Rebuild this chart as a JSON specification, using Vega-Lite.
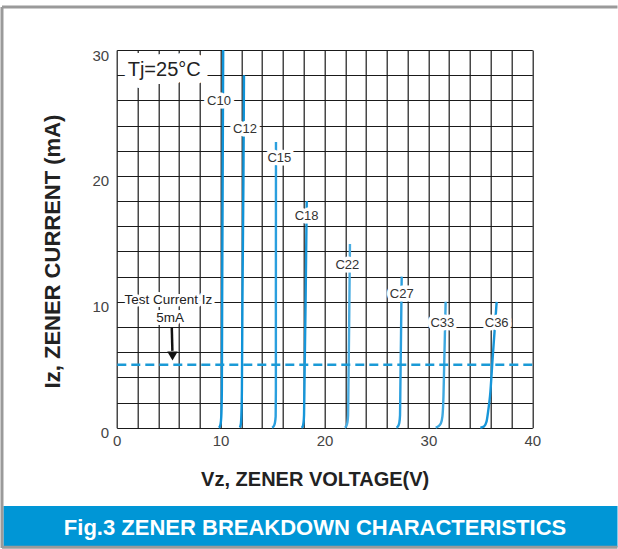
{
  "$schema": "https://vega.github.io/schema/vega-lite/v6.json",
  "autosize": "none",
  "width": 415.6,
  "height": 377.7,
  "padding": {"left": 116.7, "top": 50, "right": 85.7, "bottom": 121.3},
  "background": "white",
  "config": {
    "view": {"stroke": null},
    "axis": {
      "grid": true, "gridColor": "#1a1a1a", "gridWidth": 1.2, "gridOpacity": 1,
      "domain": false, "ticks": false, "labelOverlap": false, "tickCount": 100, "format": "d",
      "labelFont": "Liberation Sans", "labelFontSize": 15, "labelColor": "#444",
      "titleFont": "Liberation Sans", "titleFontWeight": "bold", "titleColor": "#222"
    },
    "axisX": {"labelPadding": 6, "labelFlush": false, "titleFontSize": 20, "titleX": 198, "titleY": 58, "titleBaseline": "alphabetic", "titleAlign": "center"},
    "axisY": {"labelPadding": 8, "labelOffset": 5, "titleFontSize": 22, "titleX": -64, "titleY": 201, "titleAngle": -90, "titleBaseline": "middle", "titleAlign": "center"}
  },
  "datasets": {
    "curves": [
      {"curve": "C10", "v": 9.83, "i": 0}, {"curve": "C10", "v": 9.95, "i": 0.15}, {"curve": "C10", "v": 10.03, "i": 0.5}, {"curve": "C10", "v": 10.08, "i": 1.2}, {"curve": "C10", "v": 10.12, "i": 3}, {"curve": "C10", "v": 10.15, "i": 10}, {"curve": "C10", "v": 10.2, "i": 20}, {"curve": "C10", "v": 10.25, "i": 30},
      {"curve": "C12", "v": 11.85, "i": 0}, {"curve": "C12", "v": 11.95, "i": 0.3}, {"curve": "C12", "v": 12.0, "i": 1}, {"curve": "C12", "v": 12.05, "i": 3}, {"curve": "C12", "v": 12.1, "i": 10}, {"curve": "C12", "v": 12.2, "i": 20}, {"curve": "C12", "v": 12.25, "i": 28},
      {"curve": "C15", "v": 14.95, "i": 0}, {"curve": "C15", "v": 15.1, "i": 0.1}, {"curve": "C15", "v": 15.22, "i": 0.35}, {"curve": "C15", "v": 15.3, "i": 0.9}, {"curve": "C15", "v": 15.32, "i": 3}, {"curve": "C15", "v": 15.32, "i": 10}, {"curve": "C15", "v": 15.33, "i": 22.7},
      {"curve": "C18", "v": 17.78, "i": 0}, {"curve": "C18", "v": 17.9, "i": 0.1}, {"curve": "C18", "v": 17.98, "i": 0.4}, {"curve": "C18", "v": 18.03, "i": 1}, {"curve": "C18", "v": 18.08, "i": 4}, {"curve": "C18", "v": 18.18, "i": 10}, {"curve": "C18", "v": 18.29, "i": 18},
      {"curve": "C22", "v": 21.95, "i": 0}, {"curve": "C22", "v": 22.08, "i": 0.1}, {"curve": "C22", "v": 22.2, "i": 0.4}, {"curve": "C22", "v": 22.27, "i": 1}, {"curve": "C22", "v": 22.3, "i": 3}, {"curve": "C22", "v": 22.37, "i": 8}, {"curve": "C22", "v": 22.45, "i": 14.6},
      {"curve": "C27", "v": 26.92, "i": 0}, {"curve": "C27", "v": 27.07, "i": 0.1}, {"curve": "C27", "v": 27.2, "i": 0.4}, {"curve": "C27", "v": 27.27, "i": 1}, {"curve": "C27", "v": 27.3, "i": 3}, {"curve": "C27", "v": 27.36, "i": 7}, {"curve": "C27", "v": 27.43, "i": 12},
      {"curve": "C33", "v": 30.7, "i": 0}, {"curve": "C33", "v": 30.95, "i": 0.1}, {"curve": "C33", "v": 31.2, "i": 0.35}, {"curve": "C33", "v": 31.35, "i": 0.9}, {"curve": "C33", "v": 31.45, "i": 2.5}, {"curve": "C33", "v": 31.52, "i": 5}, {"curve": "C33", "v": 31.66, "i": 10},
      {"curve": "C36", "v": 35.0, "i": 0}, {"curve": "C36", "v": 35.35, "i": 0.1}, {"curve": "C36", "v": 35.6, "i": 0.5}, {"curve": "C36", "v": 35.75, "i": 1.3}, {"curve": "C36", "v": 35.93, "i": 2.5}, {"curve": "C36", "v": 36.19, "i": 5.6}, {"curve": "C36", "v": 36.57, "i": 10}
    ],
    "labels": [
      {"label": "C10", "v": 9.85, "i": 25.95},
      {"label": "C12", "v": 12.35, "i": 23.7},
      {"label": "C15", "v": 15.65, "i": 21.4},
      {"label": "C18", "v": 18.28, "i": 16.84},
      {"label": "C22", "v": 22.2, "i": 12.92},
      {"label": "C27", "v": 27.43, "i": 10.62},
      {"label": "C33", "v": 31.34, "i": 8.34},
      {"label": "C36", "v": 36.57, "i": 8.34}
    ],
    "notes": [
      {"label": "Test Current Iz", "v": 4.97, "i": 10.14},
      {"label": "5mA", "v": 5.13, "i": 8.69}
    ],
    "tj": [{"label": "Tj=25°C", "v": 4.57, "i": 27.93}],
    "arrow": [{"v": 5.3, "v2": 5.36, "i": 8.0, "i2": 6.1, "hv": 5.37, "hi": 5.7}],
    "testline": [{"i": 5}],
    "frame": [
      {"v": -11.04, "v2": 48.2, "i": 33.42, "i2": 33.42},
      {"v": -11.04, "v2": -11.04, "i": 33.42, "i2": -9.55},
      {"v": -11.04, "v2": 48.2, "i": -9.5, "i2": -9.5}
    ],
    "banner": [{"v": -10.9, "v2": 48.2, "i": -6.22, "i2": -9.5, "label": "Fig.3 ZENER BREAKDOWN CHARACTERISTICS", "tv": 19.09, "ti": -8.52}]
  },
  "layer": [
    {
      "data": {"name": "curves"},
      "mark": {"type": "line", "strokeWidth": 2.4, "interpolate": "monotone"},
      "encoding": {
        "x": {
          "field": "v", "type": "quantitative",
          "scale": {"domain": [0, 40], "nice": false, "zero": false},
          "axis": {
            "values": [0,2,4,6,8,10,12,14,16,18,20,22,24,26,28,30,32,34,36,38,40],
            "labelExpr": "datum.value % 10 === 0 ? datum.label : ''",
            "tickCount": 100,
            "format": "d",
            "title": "Vz, ZENER VOLTAGE(V)"
          }
        },
        "y": {
          "field": "i", "type": "quantitative",
          "scale": {"domain": [0, 30], "nice": false},
          "axis": {
            "values": [0,2,4,6,8,10,12,14,16,18,20,22,24,26,28,30],
            "labelExpr": "datum.value % 10 === 0 ? datum.label : ''",
            "tickCount": 100,
            "format": "d",
            "labelOffset": 5,
            "title": "Iz, ZENER CURRENT (mA)"
          }
        },
        "order": {"field": "i", "type": "quantitative"},
        "color": {
          "field": "curve", "type": "nominal", "legend": null,
          "scale": {"domain": ["C10","C12","C15","C18","C22","C27","C33","C36"], "range": ["#0f93d8","#0f93d8","#2a9fde","#1796d9","#4aade2","#2a9fde","#3ea8e0","#1796d9"]}
        }
      }
    },
    {
      "data": {"name": "testline"},
      "mark": {"type": "rule", "color": "#1a9ad6", "strokeWidth": 2.5, "strokeDash": [9, 5]},
      "encoding": {"y": {"field": "i", "type": "quantitative"}}
    },
    {
      "data": {"name": "labels"},
      "mark": {"type": "text", "font": "Liberation Sans", "fontSize": 13, "stroke": "white", "strokeWidth": 7, "strokeJoin": "round", "fill": "white"},
      "encoding": {"x": {"field": "v", "type": "quantitative"}, "y": {"field": "i", "type": "quantitative"}, "text": {"field": "label"}}
    },
    {
      "data": {"name": "labels"},
      "mark": {"type": "text", "font": "Liberation Sans", "fontSize": 13, "fill": "#333"},
      "encoding": {"x": {"field": "v", "type": "quantitative"}, "y": {"field": "i", "type": "quantitative"}, "text": {"field": "label"}}
    },
    {
      "data": {"name": "notes"},
      "mark": {"type": "text", "font": "Liberation Sans", "fontSize": 13.5, "stroke": "white", "strokeWidth": 6, "strokeJoin": "round", "fill": "white"},
      "encoding": {"x": {"field": "v", "type": "quantitative"}, "y": {"field": "i", "type": "quantitative"}, "text": {"field": "label"}}
    },
    {
      "data": {"name": "notes"},
      "mark": {"type": "text", "font": "Liberation Sans", "fontSize": 13.5, "fill": "#222"},
      "encoding": {"x": {"field": "v", "type": "quantitative"}, "y": {"field": "i", "type": "quantitative"}, "text": {"field": "label"}}
    },
    {
      "data": {"name": "tj"},
      "mark": {"type": "text", "font": "Liberation Sans", "fontSize": 20, "baseline": "alphabetic", "stroke": "white", "strokeWidth": 16, "strokeJoin": "miter", "fill": "white"},
      "encoding": {"x": {"field": "v", "type": "quantitative"}, "y": {"field": "i", "type": "quantitative"}, "text": {"field": "label"}}
    },
    {
      "data": {"name": "tj"},
      "mark": {"type": "text", "font": "Liberation Sans", "fontSize": 20, "baseline": "alphabetic", "fill": "#222"},
      "encoding": {"x": {"field": "v", "type": "quantitative"}, "y": {"field": "i", "type": "quantitative"}, "text": {"field": "label"}}
    },
    {
      "data": {"name": "arrow"},
      "mark": {"type": "rule", "color": "#111", "strokeWidth": 2.5},
      "encoding": {"x": {"field": "v", "type": "quantitative"}, "x2": {"field": "v2"}, "y": {"field": "i", "type": "quantitative"}, "y2": {"field": "i2"}}
    },
    {
      "data": {"name": "arrow"},
      "mark": {"type": "point", "shape": "triangle-down", "filled": true, "color": "#111", "size": 110, "opacity": 1},
      "encoding": {"x": {"field": "hv", "type": "quantitative"}, "y": {"field": "hi", "type": "quantitative"}}
    },
    {
      "data": {"name": "banner"},
      "mark": {"type": "rect", "color": "#0096d6"},
      "encoding": {"x": {"field": "v", "type": "quantitative"}, "x2": {"field": "v2"}, "y": {"field": "i", "type": "quantitative"}, "y2": {"field": "i2"}}
    },
    {
      "data": {"name": "banner"},
      "mark": {"type": "text", "font": "Liberation Sans", "fontSize": 22, "fontWeight": "bold", "color": "white", "baseline": "alphabetic"},
      "encoding": {"x": {"field": "tv", "type": "quantitative"}, "y": {"field": "ti", "type": "quantitative"}, "text": {"field": "label"}}
    },
    {
      "data": {"name": "frame"},
      "mark": {"type": "rule", "color": "#9a9a9a", "strokeWidth": 3},
      "encoding": {"x": {"field": "v", "type": "quantitative"}, "x2": {"field": "v2"}, "y": {"field": "i", "type": "quantitative"}, "y2": {"field": "i2"}}
    }
  ]
}
